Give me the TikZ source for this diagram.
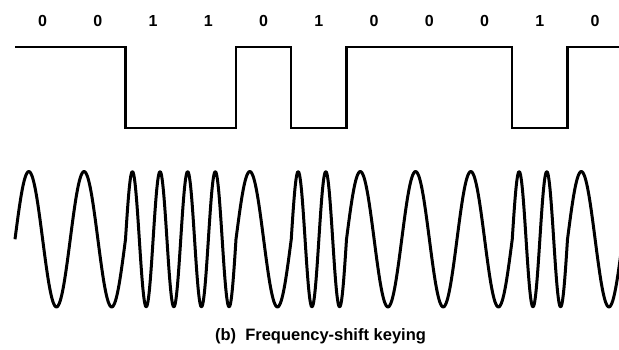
\documentclass[tikz,border=0pt]{standalone}
\usepackage{fontspec}
\setmainfont{Liberation Sans}
\begin{document}
\begin{tikzpicture}[x=1pt,y=-1pt,
  bitlabel/.style={font=\bfseries\fontsize{16}{16}\selectfont, inner sep=0pt, anchor=center},
  caption/.style={font=\bfseries\fontsize{16.5}{16.5}\selectfont, inner sep=0pt, anchor=center},
  digital/.style={line width=2.2pt, line join=miter, line cap=butt},
  wave/.style={line width=3pt, line join=round, line cap=butt}]
\useasboundingbox (0,0) rectangle (619,349);
\clip (0,0) rectangle (619,349);
% bit labels
\foreach \b [count=\i from 0] in {0,0,1,1,0,1,0,0,0,1,0} {
  \node[bitlabel] (bit\i) at ({15+55.25*(\i+0.5)}, 21) {\b};
}
% digital waveform
\coordinate (d0) at (15,47);
\coordinate (d1) at (625,47);
\draw[digital] (d0) -- (125.5,47) -- (125.5,128) -- (236,128) -- (236,47)
  -- (291.25,47) -- (291.25,128) -- (346.5,128) -- (346.5,47)
  -- (512.25,47) -- (512.25,128) -- (567.5,128) -- (567.5,47) -- (d1);
% FSK waveform
\coordinate (w0) at (15,239.25);
\draw[wave] (w0)
  \foreach \k [count=\i from 0] in {1,1,2,2,1,2,1,1,1,2,1} {
    -- plot[domain=0:1, samples=61, variable=\t, smooth]
      ({15+55.25*(\i+\t)}, {239.25-67.75*sin(360*\k*\t)})
  };
% caption
\node[caption] (cap) at (320.5,336) {(b)\ \ Frequency-shift keying};
\end{tikzpicture}
\end{document}
